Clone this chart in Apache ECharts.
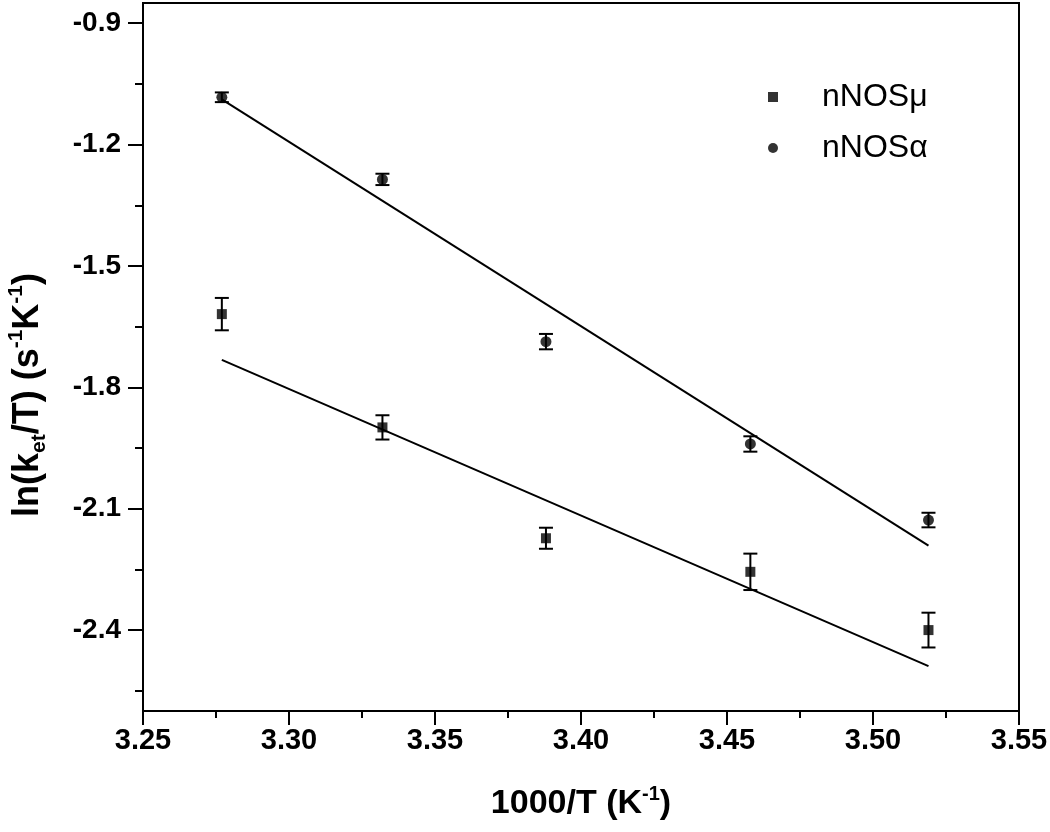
<!DOCTYPE html>
<html>
<head>
<meta charset="utf-8">
<script src="https://cdn.jsdelivr.net/npm/echarts@6/dist/echarts.min.js"></script>
<style>
  html, body { margin: 0; padding: 0; background: #fff; }
  #chart { width: 1050px; height: 832px; }
</style>
</head>
<body>
<div id="chart"></div>
<script>
// ---- data ----
const xVals = [3.277, 3.332, 3.388, 3.458, 3.519];
const muVals = [-1.619, -1.899, -2.173, -2.256, -2.400];
const muErr = [0.040, 0.030, 0.026, 0.045, 0.043];
const alphaVals = [-1.083, -1.286, -1.687, -1.940, -2.128];
const alphaErr = [0.012, 0.014, 0.019, 0.019, 0.018];
const fitX = [3.277, 3.519];
const muFitY = [-1.732, -2.489];
const alphaFitY = [-1.088, -2.191];
const yTickLabels = [-2.4, -2.1, -1.8, -1.5, -1.2, -0.9];
const yMinorTicks = [-2.55, -2.25, -1.95, -1.65, -1.35, -1.05];
const seriesNames = ['nNOSμ', 'nNOSα'];

const FONT = 'Liberation Sans, Arial, sans-serif';

const pts = (xs, ys) => xs.map((x, i) => [x, ys[i]]);
const errData = (xs, ys, es) => xs.map((x, i) => [x, ys[i] - es[i], ys[i] + es[i]]);

function errRender(params, api) {
  const x = api.value(0);
  const lo = api.coord([x, api.value(1)]);
  const hi = api.coord([x, api.value(2)]);
  const cap = 7;
  const style = { stroke: '#000', lineWidth: 2 };
  return {
    type: 'group',
    children: [
      { type: 'line', shape: { x1: lo[0], y1: lo[1], x2: hi[0], y2: hi[1] }, style },
      { type: 'line', shape: { x1: lo[0] - cap, y1: lo[1], x2: lo[0] + cap, y2: lo[1] }, style },
      { type: 'line', shape: { x1: hi[0] - cap, y1: hi[1], x2: hi[0] + cap, y2: hi[1] }, style }
    ]
  };
}

const chart = echarts.init(document.getElementById('chart'), null, { renderer: 'canvas' });

const makeRich = (big, small, lh) => ({
  a: { fontSize: big, fontWeight: 'bold', fontFamily: FONT, color: '#000', lineHeight: lh, verticalAlign: 'middle' },
  sup: { fontSize: small, fontWeight: 'bold', fontFamily: FONT, color: '#000', lineHeight: small, verticalAlign: 'top' },
  sub: { fontSize: small, fontWeight: 'bold', fontFamily: FONT, color: '#000', lineHeight: small, verticalAlign: 'bottom' }
});

chart.setOption({
  animation: false,
  backgroundColor: '#fff',
  grid: {
    left: 143, right: 31, top: 3, bottom: 121,
    containLabel: false,
    outerBoundsMode: 'none',
    show: true, borderColor: '#000', borderWidth: 2, backgroundColor: 'transparent'
  },
  legend: {
    orient: 'vertical',
    left: 763,
    top: 76,
    itemGap: 19,
    itemWidth: 10,
    itemHeight: 10,
    textStyle: { fontSize: 32, fontFamily: FONT, color: '#000', padding: [0, 0, 0, 39] },
    data: [
      { name: seriesNames[0], icon: 'rect' },
      { name: seriesNames[1], icon: 'circle' }
    ]
  },
  xAxis: {
    type: 'value',
    min: 3.25,
    max: 3.55,
    interval: 0.05,
    name: '{a|1000/T (K}{sup|-1}{a|)}',
    nameLocation: 'middle',
    nameGap: 73,
    nameTextStyle: { rich: makeRich(34, 20, 40) },
    axisLine: { show: true, onZero: false, lineStyle: { color: '#000', width: 2 } },
    axisTick: { show: true, inside: false, length: 14, lineStyle: { color: '#000', width: 2 } },
    minorTick: { show: true, splitNumber: 2, length: 7, lineStyle: { color: '#000', width: 2 } },
    splitLine: { show: false },
    minorSplitLine: { show: false },
    axisLabel: {
      margin: 15,
      fontSize: 29,
      fontWeight: 'bold',
      fontFamily: FONT,
      color: '#000',
      formatter: v => v.toFixed(2)
    }
  },
  yAxis: [
    {
      type: 'value',
      min: -2.6,
      max: -0.85,
      name: '{a|ln(k}{sub|et}{a|/T) (s}{sup|-1}{a|K}{sup|-1}{a|)}',
      nameLocation: 'middle',
      nameGap: 93,
      nameTextStyle: { rich: makeRich(36, 21, 44), padding: [0, 76, 0, 0] },
      axisLine: { show: true, onZero: false, lineStyle: { color: '#000', width: 2 } },
      axisTick: { show: true, inside: false, length: 15, customValues: yTickLabels, lineStyle: { color: '#000', width: 2 } },
      splitLine: { show: false },
      axisLabel: {
        margin: 22,
        fontSize: 28,
        fontWeight: 'bold',
        fontFamily: FONT,
        color: '#000',
        customValues: yTickLabels,
        formatter: v => v.toFixed(1)
      }
    },
    {
      type: 'value',
      min: -2.6,
      max: -0.85,
      position: 'left',
      axisLine: { show: false },
      axisTick: { show: true, inside: false, length: 8, customValues: yMinorTicks, lineStyle: { color: '#000', width: 2 } },
      axisLabel: { show: false },
      splitLine: { show: false }
    }
  ],
  series: [
    {
      type: 'line',
      data: pts(fitX, muFitY),
      symbol: 'none',
      lineStyle: { color: '#000', width: 2 },
      silent: true,
      z: 1
    },
    {
      type: 'line',
      data: pts(fitX, alphaFitY),
      symbol: 'none',
      lineStyle: { color: '#000', width: 2 },
      silent: true,
      z: 1
    },
    {
      type: 'custom',
      renderItem: errRender,
      data: errData(xVals, muVals, muErr),
      encode: { x: 0, y: [1, 2] },
      z: 2
    },
    {
      type: 'custom',
      renderItem: errRender,
      data: errData(xVals, alphaVals, alphaErr),
      encode: { x: 0, y: [1, 2] },
      z: 2
    },
    {
      name: seriesNames[0],
      type: 'scatter',
      data: pts(xVals, muVals),
      symbol: 'rect',
      symbolSize: 10,
      itemStyle: { color: '#000' },
      z: 3
    },
    {
      name: seriesNames[1],
      type: 'scatter',
      data: pts(xVals, alphaVals),
      symbol: 'circle',
      symbolSize: 11,
      itemStyle: { color: '#000' },
      z: 3
    }
  ]
});
</script>
</body>
</html>
